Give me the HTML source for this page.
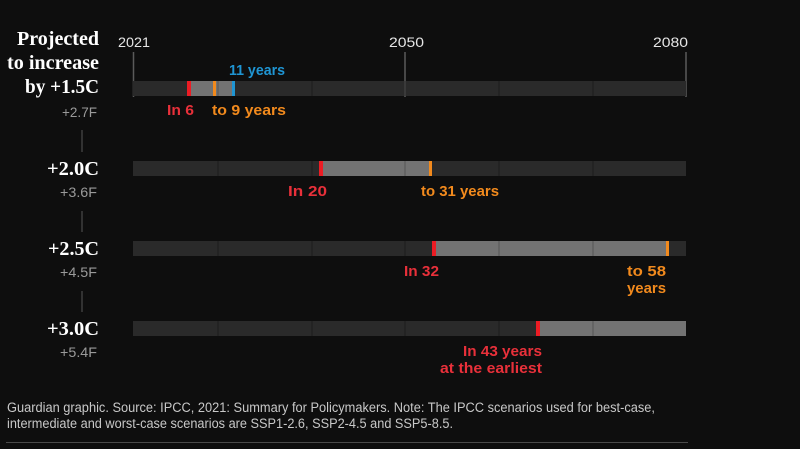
<!DOCTYPE html>
<html>
<head>
<meta charset="utf-8">
<style>
  html,body{margin:0;padding:0;background:#0e0e0e;}
  body{width:800px;height:449px;overflow:hidden;}
  svg{display:block;}
  .yr{font-family:"Liberation Sans",sans-serif;font-size:14px;fill:#e6e6e6;}
  .hd{font-family:"Liberation Serif",serif;font-weight:bold;font-size:20px;fill:#ffffff;}
  .f{font-family:"Liberation Sans",sans-serif;font-size:14px;fill:#9a9a9a;}
  .lb{font-family:"Liberation Sans",sans-serif;font-weight:bold;font-size:15px;}
  .red{fill:#e8303a;}
  .org{fill:#f28a1d;}
  .blu{fill:#1f95d3;}
  .ft{font-family:"Liberation Sans",sans-serif;font-size:13.5px;fill:#c8c8c8;}
</style>
</head>
<body>
<svg width="800" height="449" viewBox="0 0 800 449" xmlns="http://www.w3.org/2000/svg">
  <rect x="0" y="0" width="800" height="449" fill="#0e0e0e"/>

  <!-- year axis -->
  <text class="yr" x="118" y="47" textLength="32" lengthAdjust="spacingAndGlyphs">2021</text>
  <text class="yr" x="389" y="47" textLength="35" lengthAdjust="spacingAndGlyphs">2050</text>
  <text class="yr" x="653" y="47" textLength="35" lengthAdjust="spacingAndGlyphs">2080</text>
  <line x1="133.5" y1="52" x2="133.5" y2="97" stroke="#5a5a5a" stroke-width="1.5"/>
  <line x1="405" y1="52" x2="405" y2="97" stroke="#5a5a5a" stroke-width="1.5"/>
  <line x1="686" y1="52" x2="686" y2="97" stroke="#5a5a5a" stroke-width="1.5"/>

  <!-- Row 1 -->
  <rect x="133" y="81" width="553" height="15" fill="#2a2a2a"/>
  <rect x="189" y="81" width="45" height="15" fill="#737373"/>
  <g stroke="#1c1c1c" stroke-width="1">
    <line x1="218" y1="81" x2="218" y2="96" stroke="#555"/>
    <line x1="312" y1="81" x2="312" y2="96"/>
    <line x1="405" y1="81" x2="405" y2="96" stroke="#4a4a4a"/>
    <line x1="499" y1="81" x2="499" y2="96"/>
    <line x1="593" y1="81" x2="593" y2="96"/>
  </g>
  <rect x="187" y="81" width="4" height="15" fill="#ec1c24"/>
  <rect x="213" y="81" width="3" height="15" fill="#f28a1d"/>
  <rect x="232" y="81" width="3" height="15" fill="#1f95d3"/>
  <text class="lb blu" x="229" y="75" textLength="56" lengthAdjust="spacingAndGlyphs">11 years</text>
  <text class="lb red" x="167" y="115" textLength="27" lengthAdjust="spacingAndGlyphs">In 6</text>
  <text class="lb org" x="212" y="115" textLength="74" lengthAdjust="spacingAndGlyphs">to 9 years</text>

  <!-- Row 2 -->
  <rect x="133" y="161" width="553" height="15" fill="#2a2a2a"/>
  <rect x="320" y="161" width="110" height="15" fill="#737373"/>
  <g stroke="#1c1c1c" stroke-width="1">
    <line x1="218" y1="161" x2="218" y2="176"/>
    <line x1="312" y1="161" x2="312" y2="176"/>
    <line x1="405" y1="161" x2="405" y2="176" stroke="#555"/>
    <line x1="499" y1="161" x2="499" y2="176"/>
    <line x1="593" y1="161" x2="593" y2="176"/>
  </g>
  <rect x="319" y="161" width="4" height="15" fill="#ec1c24"/>
  <rect x="429" y="161" width="3" height="15" fill="#f28a1d"/>
  <text class="lb red" x="288" y="196" textLength="39" lengthAdjust="spacingAndGlyphs">In 20</text>
  <text class="lb org" x="421" y="196" textLength="78" lengthAdjust="spacingAndGlyphs">to 31 years</text>

  <!-- Row 3 -->
  <rect x="133" y="241" width="553" height="15" fill="#2a2a2a"/>
  <rect x="433" y="241" width="235" height="15" fill="#737373"/>
  <g stroke="#1c1c1c" stroke-width="1">
    <line x1="218" y1="241" x2="218" y2="256"/>
    <line x1="312" y1="241" x2="312" y2="256"/>
    <line x1="405" y1="241" x2="405" y2="256"/>
    <line x1="499" y1="241" x2="499" y2="256" stroke="#555"/>
    <line x1="593" y1="241" x2="593" y2="256" stroke="#555"/>
  </g>
  <rect x="432" y="241" width="4" height="15" fill="#ec1c24"/>
  <rect x="666" y="241" width="3" height="15" fill="#f28a1d"/>
  <text class="lb red" x="404" y="276" textLength="35" lengthAdjust="spacingAndGlyphs">In 32</text>
  <text class="lb org" x="627" y="276" textLength="39" lengthAdjust="spacingAndGlyphs">to 58</text>
  <text class="lb org" x="627" y="293" textLength="39" lengthAdjust="spacingAndGlyphs">years</text>

  <!-- Row 4 -->
  <rect x="133" y="321" width="553" height="15" fill="#2a2a2a"/>
  <rect x="537" y="321" width="149" height="15" fill="#737373"/>
  <g stroke="#1c1c1c" stroke-width="1">
    <line x1="218" y1="321" x2="218" y2="336"/>
    <line x1="312" y1="321" x2="312" y2="336"/>
    <line x1="405" y1="321" x2="405" y2="336"/>
    <line x1="499" y1="321" x2="499" y2="336"/>
    <line x1="593" y1="321" x2="593" y2="336" stroke="#555"/>
  </g>
  <rect x="536" y="321" width="4" height="15" fill="#ec1c24"/>
  <text class="lb red" x="463" y="356" textLength="79" lengthAdjust="spacingAndGlyphs">In 43 years</text>
  <text class="lb red" x="440" y="373" textLength="102" lengthAdjust="spacingAndGlyphs">at the earliest</text>

  <!-- Left labels -->
  <text class="hd" x="17" y="45" textLength="82" lengthAdjust="spacingAndGlyphs">Projected</text>
  <text class="hd" x="7" y="69" textLength="92" lengthAdjust="spacingAndGlyphs">to increase</text>
  <text class="hd" x="25" y="93" textLength="74" lengthAdjust="spacingAndGlyphs">by +1.5C</text>
  <text class="f" x="62" y="117" textLength="35" lengthAdjust="spacingAndGlyphs">+2.7F</text>

  <line x1="82" y1="130" x2="82" y2="152" stroke="#3e3e3e" stroke-width="1.5"/>
  <text class="hd" x="47" y="175" textLength="52" lengthAdjust="spacingAndGlyphs">+2.0C</text>
  <text class="f" x="60" y="197" textLength="37" lengthAdjust="spacingAndGlyphs">+3.6F</text>

  <line x1="82" y1="211" x2="82" y2="232" stroke="#3e3e3e" stroke-width="1.5"/>
  <text class="hd" x="48" y="255" textLength="51" lengthAdjust="spacingAndGlyphs">+2.5C</text>
  <text class="f" x="60" y="277" textLength="37" lengthAdjust="spacingAndGlyphs">+4.5F</text>

  <line x1="82" y1="291" x2="82" y2="312" stroke="#3e3e3e" stroke-width="1.5"/>
  <text class="hd" x="47" y="335" textLength="52" lengthAdjust="spacingAndGlyphs">+3.0C</text>
  <text class="f" x="60" y="357" textLength="37" lengthAdjust="spacingAndGlyphs">+5.4F</text>

  <!-- Footer -->
  <text class="ft" x="7" y="412" textLength="648" lengthAdjust="spacingAndGlyphs">Guardian graphic. Source: IPCC, 2021: Summary for Policymakers. Note: The IPCC scenarios used for best-case,</text>
  <text class="ft" x="7" y="428" textLength="446" lengthAdjust="spacingAndGlyphs">intermediate and worst-case scenarios are SSP1-2.6, SSP2-4.5 and SSP5-8.5.</text>
  <line x1="6" y1="442.5" x2="688" y2="442.5" stroke="#4a4a4a" stroke-width="1"/>
</svg>
</body>
</html>
